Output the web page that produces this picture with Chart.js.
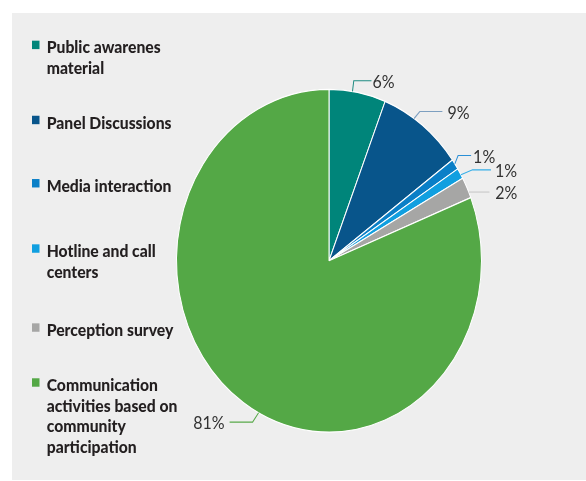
<!DOCTYPE html>
<html>
<head>
<meta charset="utf-8">
<script src="https://cdn.jsdelivr.net/npm/chart.js@4/dist/chart.umd.min.js"></script>
<style>
  html, body { margin: 0; padding: 0; background: #ffffff; }
  #wrap { width: 586px; height: 481px; }
  canvas { display: block; }
</style>
</head>
<body>
<div id="wrap"><canvas id="chart" width="586" height="481"></canvas></div>
<script>
// Categories (multi-line entries are the wrapped legend text)
const categories = [
  ["Public awarenes", "material"],
  "Panel Discussions",
  "Media interaction",
  ["Hotline and call", "centers"],
  "Perception survey",
  ["Communication", "activities based on", "community", "participation"]
];
// Share of communication activities, in percent
const shares = [6, 9, 1, 1, 2, 81];
// Text printed next to each slice
const valueLabels = shares.map(v => v + "%");

const sliceColors = ["#00857a", "#08558b", "#0a7fc7", "#109fe0", "#a6a6a5", "#54a846"];
const leaderColors = ["#1f8c82", "#7d9fc0", "#2a8fd6", "#35aee8", "#c9c9c9", "#58a94a"];

// The figure is drawn in a flat coordinate space and stretched vertically.
const STRETCH = 481 / 428;

// Legend rows (top of each marker) and label leader geometry
const legendRowTop = [36.2, 103, 159.3, 217.4, 287.7, 336.6];
const anchorAt = [0.41, 0.38, 0.44, 0.64, 0.72, 0.477];
const elbow = [[1.3, -9.5], [5.7, -6.2], [3.3, -7.4], [11.6, -4.4], [0, 0], [-6, 8.3]];
const run = [17.7, 22.6, 13, 18.4, 20.7, -23];
const gap = [1, 5, 2, 4, 5.7, 5];

const panelPlugin = {
  id: "panel",
  beforeDraw(chart) {
    const ctx = chart.ctx;
    ctx.save();
    ctx.fillStyle = "#eeeeee";
    ctx.fillRect(12, 13, 574, 467);
    ctx.restore();
    ctx.save();
    ctx.scale(1, STRETCH);
  },
  afterDatasetsDraw(chart) {
    const ctx = chart.ctx;
    // legend
    ctx.save();
    ctx.textAlign = "left";
    ctx.textBaseline = "alphabetic";
    ctx.font = "900 15.7px Lato";
    chart.data.labels.forEach((lab, i) => {
      const top = legendRowTop[i];
      ctx.fillStyle = sliceColors[i];
      ctx.fillRect(32, top, 7.5, 7.5);
      ctx.fillStyle = "#231f20";
      const lines = Array.isArray(lab) ? lab : [lab];
      lines.forEach((ln, k) => ctx.fillText(ln, 46.7, top + 11.4 + k * 18.4));
    });
    ctx.restore();

    // value labels with leader lines
    const meta = chart.getDatasetMeta(0);
    ctx.save();
    ctx.font = "16px Lato";
    ctx.fillStyle = "#333333";
    ctx.lineWidth = 1;
    meta.data.forEach((arc, i) => {
      const p = arc.getProps(["x", "y", "startAngle", "endAngle", "outerRadius"], true);
      const a = p.startAngle + (p.endAngle - p.startAngle) * anchorAt[i];
      const ax = p.x + p.outerRadius * Math.cos(a);
      const ay = p.y + p.outerRadius * Math.sin(a);
      const ex = ax + elbow[i][0];
      const ey = ay + elbow[i][1];
      const lx = ex + run[i];
      ctx.strokeStyle = leaderColors[i];
      ctx.beginPath();
      ctx.moveTo(ax, ay);
      ctx.lineTo(ex, ey);
      ctx.lineTo(lx, ey);
      ctx.stroke();
      const right = run[i] >= 0;
      ctx.textAlign = right ? "left" : "right";
      ctx.fillText(valueLabels[i], right ? lx + gap[i] : lx - gap[i], ey + 6.3);
    });
    ctx.restore();
  },
  afterDraw(chart) {
    chart.ctx.restore();
  }
};

new Chart(document.getElementById("chart"), {
  type: "pie",
  data: {
    labels: categories,
    datasets: [{
      data: shares,
      backgroundColor: sliceColors,
      borderColor: "#ffffff",
      borderWidth: 1
    }]
  },
  options: {
    responsive: false,
    devicePixelRatio: 1,
    animation: false,
    layout: { padding: { left: 176, top: 79, right: 104, bottom: 96 } },
    plugins: {
      legend: { display: false },
      tooltip: { enabled: false },
      title: { display: false }
    }
  },
  plugins: [panelPlugin]
});
</script>
</body>
</html>
